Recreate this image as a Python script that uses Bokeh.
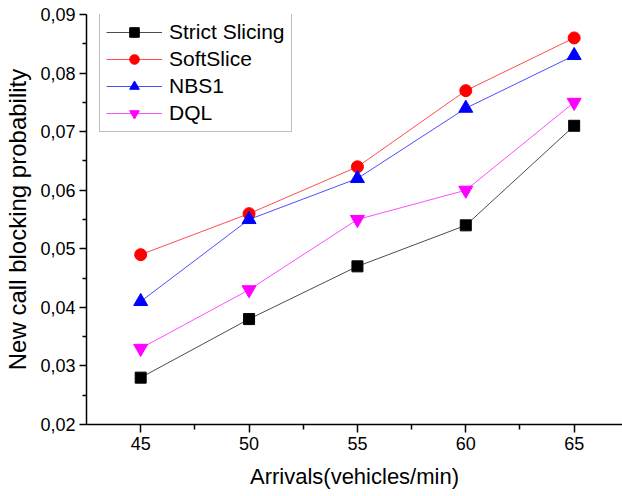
from bokeh.plotting import figure
from bokeh.models import FixedTicker, Range1d, Legend
from bokeh.embed import file_html
from bokeh.resources import INLINE

arrivals = [45, 50, 55, 60, 65]
strict_slicing = [0.028, 0.038, 0.047, 0.054, 0.071]
soft_slice = [0.049, 0.056, 0.064, 0.077, 0.086]
nbs1 = [0.041, 0.055, 0.062, 0.074, 0.083]
dql = [0.033, 0.043, 0.055, 0.060, 0.075]

x_ticks = [45, 50, 55, 60, 65]
x_minor = [47.5, 52.5, 57.5, 62.5, 67.5]
y_ticks = [0.02, 0.03, 0.04, 0.05, 0.06, 0.07, 0.08, 0.09]
y_minor = [0.025, 0.035, 0.045, 0.055, 0.065, 0.075, 0.085]
y_tick_labels = ["0,02", "0,03", "0,04", "0,05", "0,06", "0,07", "0,08", "0,09"]

FONT = "Liberation Sans"

p = figure(width=622, height=496, output_backend="svg", toolbar_location=None,
           x_range=Range1d(42.5, 67.23), y_range=Range1d(0.02, 0.09),
           min_border_left=86, min_border_top=14, min_border_right=0,
           min_border_bottom=72)
p.outline_line_color = None
p.xgrid.visible = False
p.ygrid.visible = False
p.background_fill_color = "white"
p.border_fill_color = "white"

series = [
    ("Strict Slicing", strict_slicing, "black", "square", 11),
    ("SoftSlice", soft_slice, "red", "circle", 12),
    ("NBS1", nbs1, "blue", "triangle", 14),
    ("DQL", dql, "magenta", "inverted_triangle", 14),
]

items = []
for name, ys, color, marker, size in series:
    ln = p.line(arrivals, ys, line_color=color, line_width=1, line_alpha=0.7)
    sc = p.scatter(arrivals, ys, marker=marker, size=size, fill_color=color,
                   line_color=color)
    items.append((name, [ln, sc]))

legend = Legend(items=items, location=(13, 292))
legend.label_text_font = FONT
legend.label_text_font_size = "21px"
legend.label_text_color = "black"
legend.label_height = 24
legend.glyph_height = 24
legend.glyph_width = 56
legend.label_standoff = 7
legend.spacing = 3
legend.padding = 6
legend.margin = 0
legend.border_line_color = "#808080"
legend.border_line_width = 1
legend.background_fill_color = "white"
legend.background_fill_alpha = 1
p.add_layout(legend, "center")

for ax in (p.xaxis[0], p.yaxis[0]):
    ax.axis_line_color = "black"
    ax.axis_line_width = 1.5
    ax.major_tick_line_color = "black"
    ax.minor_tick_line_color = "black"
    ax.major_tick_line_width = 1.5
    ax.minor_tick_line_width = 1.5
    ax.major_tick_in = 0
    ax.minor_tick_in = 0
    ax.major_label_text_font = FONT
    ax.major_label_text_font_size = "18px"
    ax.major_label_text_color = "black"
    ax.axis_label_text_font = FONT
    ax.axis_label_text_font_style = "normal"
    ax.axis_label_text_color = "black"

p.xaxis.axis_label_text_font_size = "22px"
p.yaxis.axis_label_text_font_size = "24px"
p.xaxis.ticker = FixedTicker(ticks=x_ticks, minor_ticks=x_minor)
p.yaxis.ticker = FixedTicker(ticks=y_ticks, minor_ticks=y_minor)
p.yaxis.major_label_overrides = {t: l for t, l in zip(y_ticks, y_tick_labels)}
p.xaxis.major_tick_out = 8
p.xaxis.minor_tick_out = 5
p.yaxis.major_tick_out = 7
p.yaxis.minor_tick_out = 4
p.xaxis.major_label_standoff = 4
p.yaxis.major_label_standoff = 4
p.xaxis.axis_label = "Arrivals(vehicles/min)"
p.yaxis.axis_label = "New call blocking probability"
p.xaxis.axis_label_standoff = 11
p.yaxis.axis_label_standoff = 6

open("out.html", "w").write(file_html(p, INLINE))
